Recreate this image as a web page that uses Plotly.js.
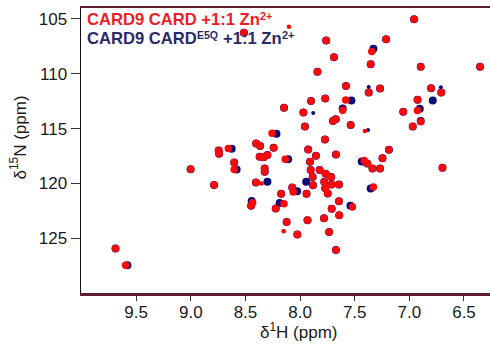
<!DOCTYPE html>
<html>
<head>
<meta charset="utf-8">
<script src="https://cdn.plot.ly/plotly-3.0.1.min.js"></script>
<style>html,body{margin:0;padding:0;background:#fff;overflow:hidden}#chart{width:490px;height:345px}</style>
</head>
<body>
<div id="chart"></div>
<script>
// 1H / 15N chemical shifts (ppm) of cross-peaks, CARD9 CARD + 1:1 Zn2+
const redH = [
  6.957, 8.514, 7.761, 7.213, 7.344, 7.690, 7.354, 7.841, 6.896, 6.353,
  7.580, 7.372, 7.268, 6.801, 6.708, 7.900, 7.770, 7.582, 6.925, 8.147,
  7.970, 7.610, 7.056, 6.926, 7.674, 7.699, 7.537, 7.956, 6.969, 6.896,
  7.772, 7.926, 7.187, 8.257, 8.402, 8.365, 8.242, 8.745, 8.741, 8.657,
  8.370, 8.333, 8.299, 8.136, 8.603, 8.603, 9.002, 8.324, 8.324, 8.787,
  8.404, 8.173, 8.072, 8.063, 8.434, 8.448, 8.147, 8.223, 7.855, 7.672,
  7.909, 7.903, 7.821, 7.766, 7.715, 7.885, 7.882, 7.779, 7.770, 7.711,
  7.644, 7.747, 7.941, 7.644, 7.521, 7.711, 7.642, 7.781, 7.932, 8.123,
  8.025, 7.734, 7.672, 7.413, 7.385, 7.246, 7.338, 7.268, 6.697, 7.329,
  9.689, 9.597
];
const redN = [
  105.03, 106.26, 106.97, 106.86, 107.97, 108.50, 109.14, 109.82, 109.36, 109.36,
  111.12, 111.70, 111.35, 111.33, 111.70, 112.49, 112.25, 112.40, 112.37, 113.09,
  113.53, 113.32, 113.47, 113.34, 114.14, 114.32, 114.68, 114.82, 114.82, 114.38,
  115.99, 116.90, 116.94, 115.42, 116.36, 116.60, 116.74, 117.01, 117.29, 116.81,
  117.58, 117.61, 117.40, 117.79, 118.09, 118.73, 118.70, 118.64, 118.93, 120.14,
  119.92, 120.94, 120.37, 120.78, 121.76, 122.05, 121.85, 122.29, 117.49, 117.36,
  118.02, 118.79, 118.79, 119.11, 119.41, 119.41, 120.16, 119.86, 120.44, 120.10,
  120.10, 120.92, 120.94, 121.63, 122.15, 122.31, 122.90, 123.18, 123.36, 123.52,
  124.67, 124.43, 126.07, 117.91, 118.18, 117.70, 118.64, 118.64, 118.58, 120.32,
  125.95, 127.47
];
const redWeakH = [8.102, 7.407, 8.150, 8.352];
const redWeakN = [105.71, 115.21, 124.37, 120.01];

// CARD9 CARD E5Q + 1:1 Zn2+
const blueH = [
  6.957, 8.514, 7.761, 7.213, 7.329, 7.690, 7.354, 7.841, 6.896, 6.353,
  7.580, 7.372, 7.268, 6.801, 6.708, 7.900, 7.770, 7.530, 6.925, 8.147,
  7.970, 7.610, 7.056, 6.905, 7.674, 7.699, 7.537, 7.956, 6.969, 6.896,
  7.772, 7.926, 7.187, 8.216, 8.402, 8.365, 8.242, 8.745, 8.741, 8.626,
  8.370, 8.333, 8.299, 8.109, 8.603, 8.581, 9.002, 8.324, 8.324, 8.787,
  8.404, 8.173, 8.072, 8.027, 8.443, 8.448, 8.187, 8.223, 7.855, 7.672,
  7.909, 7.903, 7.821, 7.766, 7.715, 7.885, 7.882, 7.779, 7.770, 7.711,
  7.644, 7.747, 7.941, 7.644, 7.539, 7.711, 7.642, 7.781, 7.932, 8.123,
  8.025, 7.734, 7.672, 7.436, 7.385, 7.246, 7.338, 7.268, 6.697, 7.354,
  9.689, 9.580, 6.786, 7.944, 8.299
];
const blueN = [
  105.03, 106.26, 106.97, 106.86, 107.72, 108.50, 109.14, 109.82, 109.36, 109.36,
  111.12, 111.70, 111.35, 111.33, 111.70, 112.49, 112.25, 112.43, 112.37, 113.09,
  113.53, 113.16, 113.47, 113.20, 114.14, 114.32, 114.68, 114.82, 114.82, 114.30,
  115.99, 116.90, 116.94, 115.48, 116.36, 116.60, 116.74, 117.01, 117.29, 116.83,
  117.58, 117.61, 117.40, 117.79, 118.09, 118.73, 118.70, 118.64, 118.93, 120.14,
  119.92, 120.94, 120.37, 120.71, 121.60, 122.05, 121.78, 122.29, 117.49, 117.36,
  118.02, 118.79, 118.79, 119.11, 119.41, 119.41, 120.16, 119.86, 120.44, 120.10,
  120.10, 120.92, 120.94, 121.63, 122.04, 122.31, 122.90, 123.18, 123.36, 123.52,
  124.67, 124.43, 126.07, 118.00, 118.18, 117.70, 118.64, 118.64, 118.58, 120.47,
  125.95, 127.47, 112.43, 119.86, 119.86
];
const blueWeakH = [7.372, 6.712, 7.880, 7.378, 8.150];
const blueWeakN = [111.21, 111.24, 113.57, 115.12, 124.37];

const xTicks = [9.5, 9.0, 8.5, 8.0, 7.5, 7.0, 6.5];
const yTicks = [105, 110, 115, 120, 125];

const RED = '#ff0808', BLUE = '#0a0a78';
const RED_TXT = '#ec1c24', BLUE_TXT = '#2a2a68';
const FONT = 'Liberation Sans, Arial, Helvetica, sans-serif';

const traces = [
  {x: blueH, y: blueN, type: 'scatter', mode: 'markers', hoverinfo: 'skip',
   marker: {color: BLUE, size: 8, line: {width: 0}}},
  {x: blueWeakH, y: blueWeakN, type: 'scatter', mode: 'markers', hoverinfo: 'skip',
   marker: {color: BLUE, size: 4, line: {width: 0}}},
  {x: redH, y: redN, type: 'scatter', mode: 'markers', hoverinfo: 'skip',
   marker: {color: RED, size: 7.5, line: {width: 0}}},
  {x: redWeakH, y: redWeakN, type: 'scatter', mode: 'markers', hoverinfo: 'skip',
   marker: {color: RED, size: 4.5, line: {width: 0}}}
];

// plot area in pixels: x 81..490, y 8..293
const PX = px => (px - 81) / 409;
const PY = py => 1 - (py - 8) / 285;
function label(text, px, py, size, color, extra) {
  return Object.assign({xref: 'paper', yref: 'paper', x: PX(px), y: PY(py),
    xanchor: 'left', yanchor: 'middle', showarrow: false, borderpad: 0,
    text: text, font: {family: FONT, size: size, color: color}}, extra || {});
}

const layout = {
  width: 490, height: 345,
  margin: {l: 81, r: 0, t: 8, b: 52},
  paper_bgcolor: '#fff', plot_bgcolor: '#fff',
  showlegend: false,
  font: {family: FONT, size: 17, color: '#1a1a1a'},
  xaxis: {
    range: [10.005, 6.262], tickvals: xTicks, ticktext: xTicks.map(v => v.toFixed(1)),
    ticks: 'outside', ticklen: 5, tickwidth: 1, tickcolor: '#333',
    ticklabelstandoff: -3,
    showline: true, linecolor: '#5c1e2c', linewidth: 2.5, mirror: true,
    showgrid: false, zeroline: false,
    tickfont: {size: 17}
  },
  yaxis: {
    range: [130, 104], tickvals: yTicks,
    ticks: 'outside', ticklen: 9, tickwidth: 1, tickcolor: '#333',
    showline: true, linecolor: '#111', linewidth: 1.5, mirror: false,
    showgrid: false, zeroline: false,
    tickfont: {size: 17}
  },
  annotations: [
    label('<b>CARD9 CARD +1:1 Zn</b>', 85.5, 19.5, 16.6, RED_TXT),
    label('<b>2+</b>', 259, 16, 11, RED_TXT),
    label('<b>CARD9 CARD</b>', 85.5, 38.5, 16.6, BLUE_TXT),
    label('<b>E5Q</b>', 195.5, 35, 10.5, BLUE_TXT),
    label('<b>+1:1 Zn</b>', 222, 38.5, 16.6, BLUE_TXT),
    label('<b>2+</b>', 281, 35, 11, BLUE_TXT),
    // axis titles
    label('δ<sup>1</sup>H (ppm)', 298.5, 331, 17, '#1a1a1a', {xanchor: 'center'}),
    label('δ<sup>15</sup>N (ppm)', 18, 137.5, 17, '#1a1a1a', {xanchor: 'center', textangle: -90})
  ]
};

Plotly.newPlot('chart', traces, layout, {staticPlot: true, displayModeBar: false});
</script>
</body>
</html>
